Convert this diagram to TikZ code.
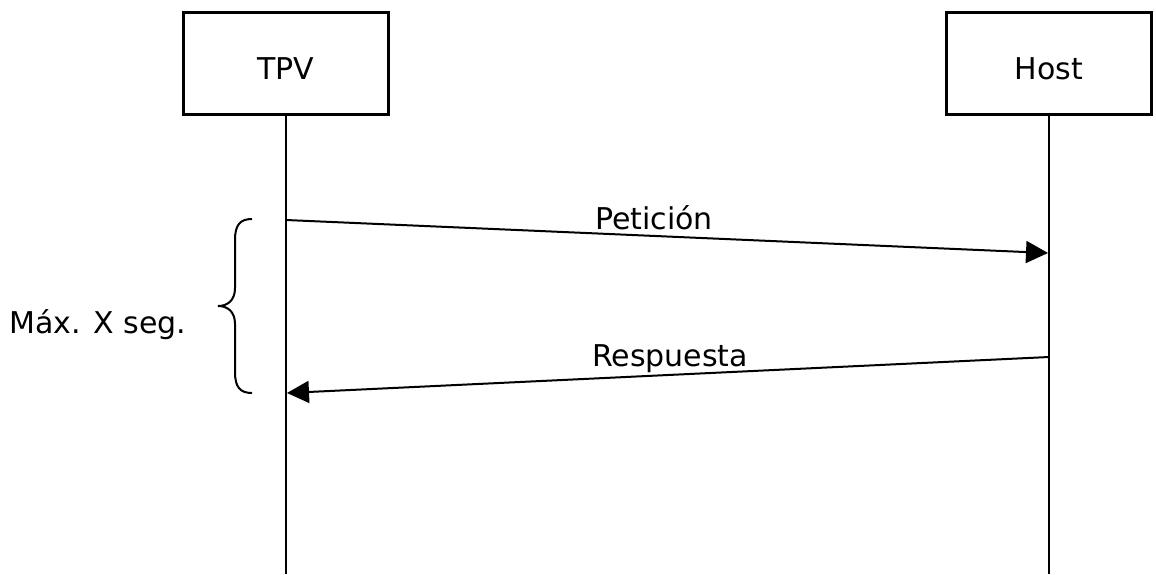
\documentclass[tikz,border=0pt]{standalone}
\usepackage{fontspec}
\setmainfont{DejaVu Sans}
\usetikzlibrary{arrows.meta}
\begin{document}
\begin{tikzpicture}[x=1pt,y=-1pt,
  every node/.style={font=\fontsize{30}{36}\selectfont, inner sep=0pt},
  actor/.style={draw, line width=3pt, minimum width=205pt, minimum height=102pt, text height=31pt, text depth=0pt},
  life/.style={line width=2pt},
  msg/.style={line width=2pt, -{Triangle[length=22pt,width=22pt]}},
  lbl/.style={anchor=base}]
\useasboundingbox (0,0) rectangle (1156,574);
\node[actor] (tpv) at (286,63.5) {TPV};
\node[actor] (host) at (1049,63.5) {Host};
\coordinate (tpvend) at (286,574);
\coordinate (hostend) at (1049,574);
\draw[life] (tpv.south) -- (tpvend);
\draw[life] (host.south) -- (hostend);
\coordinate (reqs) at (286,220);
\coordinate (reqe) at (1048,253);
\coordinate (resps) at (1049,357);
\coordinate (respe) at (287,393);
\draw[msg] (reqs) -- (reqe);
\draw[msg] (resps) -- (respe);
\node[lbl] (lreq) at (654,229) {Petición};
\node[lbl] (lresp) at (670,366) {Respuesta};
\draw[line width=2pt] (252,219) .. controls (240,219) and (235,225) .. (235,240) -- (235,288) .. controls (235,300) and (228,306) .. (218,306) .. controls (228,306) and (235,312) .. (235,324) -- (235,372) .. controls (235,387) and (240,393) .. (252,393);
\node[lbl] (lmax) at (98,333) {Máx. X seg.};
\end{tikzpicture}
\end{document}
